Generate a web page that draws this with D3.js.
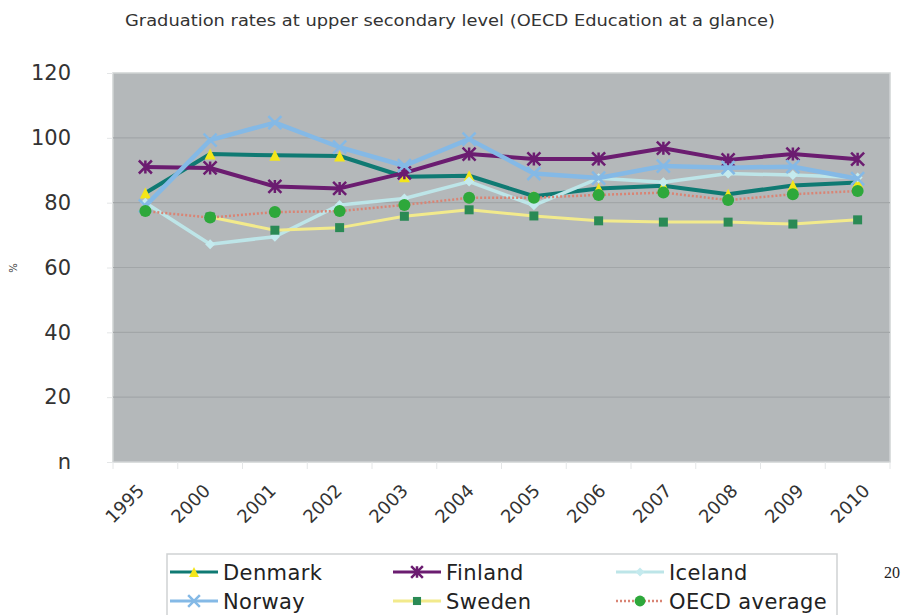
<!DOCTYPE html>
<meta charset="utf-8">
<script src="https://d3js.org/d3.v7.min.js"></script>
<style>
  body { margin: 0; background: #fff; }
  text { font-family: "DejaVu Sans", Verdana, sans-serif; }
</style>
<div id="chart"></div>
<script>

// categories and values
var years = ["1995","2000","2001","2002","2003","2004","2005","2006","2007","2008","2009","2010"];
var yTicks = [0, 20, 40, 60, 80, 100, 120];
var yTickLabels = ["n", "20", "40", "60", "80", "100", "120"];

var denmark = [83, 95, 94.6, 94.4, 88, 88.3, 82, 84.4, 85.2, 82.6, 85.3, 86.2];
var finland = [91, 90.7, 85, 84.4, 89.2, 95, 93.5, 93.5, 96.8, 93.2, 95, 93.4];
var iceland = [80, 67.2, 69.5, 79.3, 81.3, 86.5, 79.2, 87.5, 86.3, 89, 88.5, 87.8];
var norway  = [79, 99.3, 104.7, 97.1, 91.4, 99.6, 89, 87.6, 91.3, 90.8, 91.1, 87.4];
var sweden  = [null, 75.6, 71.5, 72.3, 75.8, 77.8, 75.9, 74.4, 74, 74, 73.4, 74.7];
var oecd    = [77.4, 75.4, 77.1, 77.4, 79.3, 81.5, 81.5, 82.4, 83.1, 80.8, 82.6, 83.6];

var seriesNames = ["Denmark", "Finland", "Iceland", "Norway", "Sweden", "OECD average"];

var series = [
  {name: seriesNames[0], values: denmark, line: "#0f7a73", width: 4,   marker: "triangle", mcolor: "#f3e61a", msize: 11},
  {name: seriesNames[1], values: finland, line: "#6b1c70", width: 4,   marker: "star",     mcolor: "#6b1c70", msize: 13},
  {name: seriesNames[2], values: iceland, line: "#bde5e8", width: 3.5, marker: "diamond",  mcolor: "#c4eaee", msize: 10},
  {name: seriesNames[3], values: norway,  line: "#84b9e6", width: 4.5, marker: "cross",    mcolor: "#84b9e6", msize: 13},
  {name: seriesNames[4], values: sweden,  line: "#f2ea8c", width: 3,   marker: "square",   mcolor: "#2a8a55", msize: 9},
  {name: seriesNames[5], values: oecd,    line: "#d98474", width: 2.5, marker: "circle",   mcolor: "#2ea83b", msize: 12, dash: "2,2"}
];

var W = 905, H = 615;
var margin = {top: 73, right: 15, bottom: 153, left: 113};

var svg = d3.select("#chart").append("svg")
  .attr("width", W)
  .attr("height", H);

var x = d3.scaleBand()
  .domain(years)
  .range([margin.left, 890]);

var y = d3.scaleLinear()
  .domain([0, 120])
  .range([462, margin.top]);

// title
svg.append("text")
  .attr("x", 450)
  .attr("y", 26)
  .attr("text-anchor", "middle")
  .attr("textLength", 650)
  .attr("lengthAdjust", "spacingAndGlyphs")
  .style("font-family", "'DejaVu Sans Condensed', 'DejaVu Sans', sans-serif")
  .style("font-size", "16.5px")
  .style("fill", "#333")
  .text("Graduation rates at upper secondary level (OECD Education at a glance)");

// plot area
svg.append("rect")
  .attr("x", margin.left)
  .attr("y", y(120))
  .attr("width", 890 - margin.left)
  .attr("height", y(0) - y(120))
  .style("fill", "#b4b8ba")
  .style("stroke", "#d0d3d4")
  .style("stroke-width", 1.5);

// gridlines
svg.append("g")
  .selectAll("line")
  .data(yTicks.slice(1, -1))
  .enter().append("line")
    .attr("x1", margin.left)
    .attr("x2", 890)
    .attr("y1", function(d) { return y(d); })
    .attr("y2", function(d) { return y(d); })
    .style("stroke", "#a2a6a8")
    .style("stroke-width", 1.2);

// y axis
var yAxis = svg.append("g")
  .attr("transform", "translate(" + margin.left + ",0)")
  .call(d3.axisLeft(y)
    .tickValues(yTicks)
    .tickSize(6)
    .tickPadding(36)
    .tickFormat(function(d, i) { return yTickLabels[i]; }));
yAxis.select(".domain").remove();
yAxis.selectAll(".tick line").style("stroke", "#e4e6e7");
yAxis.selectAll("text")
  .style("font-size", "21px")
  .style("fill", "#333")
  .style("font-family", "'DejaVu Sans', sans-serif");

svg.append("text")
  .attr("transform", "translate(17,268) rotate(-90)")
  .attr("text-anchor", "middle")
  .style("font-size", "10px")
  .style("fill", "#333")
  .text("%");

// x axis: ticks between categories
svg.append("g")
  .selectAll("line")
  .data(years.concat(["end"]))
  .enter().append("line")
    .attr("x1", function(d) { return d === "end" ? 890 : x(d); })
    .attr("x2", function(d) { return d === "end" ? 890 : x(d); })
    .attr("y1", 462)
    .attr("y2", 469)
    .style("stroke", "#e4e6e7");

svg.append("g")
  .selectAll("text")
  .data(years)
  .enter().append("text")
    .attr("transform", function(d, i) {
      return "translate(" + (x(d) + x.bandwidth() / 2 - 9 + i * 1.2) + ",483) rotate(-45)";
    })
    .attr("text-anchor", "end")
    .attr("dy", "0.7em")
    .style("font-size", "18px")
    .style("fill", "#333")
    .text(function(d) { return d; });

// marker shapes
function markerPath(type, s) {
  var h = s / 2;
  if (type === "triangle") return "M0," + (-h) + "L" + h + "," + h + "L" + (-h) + "," + h + "Z";
  if (type === "diamond") return "M0," + (-h) + "L" + h + ",0L0," + h + "L" + (-h) + ",0Z";
  if (type === "square") return "M" + (-h) + "," + (-h) + "h" + s + "v" + s + "h" + (-s) + "Z";
  if (type === "cross") return "M" + (-h) + "," + (-h) + "L" + h + "," + h + "M" + h + "," + (-h) + "L" + (-h) + "," + h;
  if (type === "star") return "M" + (-h) + "," + (-h) + "L" + h + "," + h + "M" + h + "," + (-h) + "L" + (-h) + "," + h + "M0," + (-h) + "L0," + h;
  return "";
}

function drawMarker(g, s) {
  if (s.marker === "circle") {
    g.append("circle").attr("r", s.msize / 2).style("fill", s.mcolor);
  } else if (s.marker === "cross" || s.marker === "star") {
    g.append("path").attr("d", markerPath(s.marker, s.msize))
      .style("fill", "none").style("stroke", s.mcolor).style("stroke-width", 2.5);
  } else {
    g.append("path").attr("d", markerPath(s.marker, s.msize)).style("fill", s.mcolor);
  }
}

var line = d3.line()
  .defined(function(d) { return d != null; })
  .x(function(d, i) { return x(years[i]) + x.bandwidth() / 2; })
  .y(function(d) { return y(d); });

series.forEach(function(s) {
  svg.append("path")
    .datum(s.values)
    .attr("d", line)
    .style("fill", "none")
    .style("stroke", s.line)
    .style("stroke-width", s.width)
    .style("stroke-linejoin", "round")
    .style("stroke-dasharray", s.dash || null);

  s.values.forEach(function(v, i) {
    if (v == null) return;
    var g = svg.append("g")
      .attr("transform", "translate(" + (x(years[i]) + x.bandwidth() / 2) + "," + y(v) + ")");
    drawMarker(g, s);
  });
});

// legend
svg.append("rect")
  .attr("x", 167)
  .attr("y", 554)
  .attr("width", 670)
  .attr("height", 70)
  .style("fill", "#fff")
  .style("stroke", "#cfd2d3")
  .style("stroke-width", 1.5);

series.forEach(function(s, i) {
  var col = i % 3, row = Math.floor(i / 3);
  var lx = 170 + col * 223, ly = 572 + row * 29;
  var g = svg.append("g").attr("transform", "translate(" + lx + "," + ly + ")");
  g.append("line")
    .attr("x1", 0).attr("x2", 48)
    .style("stroke", s.line)
    .style("stroke-width", Math.min(s.width, 3))
    .style("stroke-dasharray", s.dash || null);
  var mg = g.append("g").attr("transform", "translate(24,0)");
  drawMarker(mg, {marker: s.marker, mcolor: s.mcolor, msize: s.msize * 0.9});
  g.append("text")
    .attr("x", 53)
    .attr("dy", "0.36em")
    .style("font-size", "21px")
    .style("letter-spacing", "0.4px")
    .style("fill", "#222")
    .text(s.name);
});

svg.append("text")
  .attr("x", 884)
  .attr("y", 578)
  .style("font-family", "'Liberation Serif', serif")
  .style("font-size", "16px")
  .style("fill", "#222")
  .text("20");

</script>
